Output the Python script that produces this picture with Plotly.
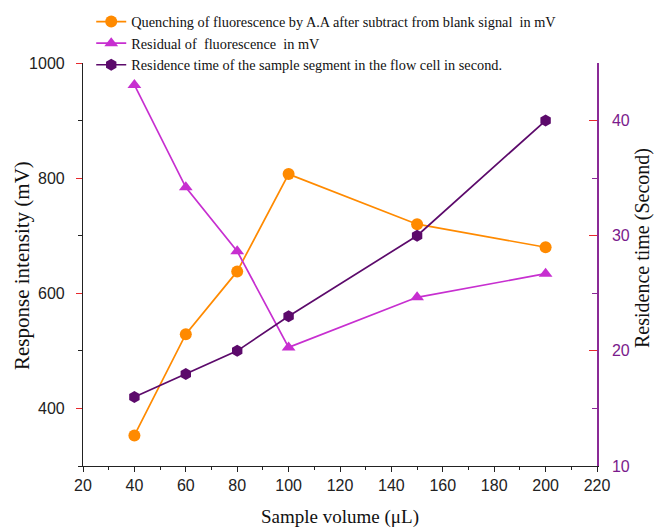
import plotly.graph_objects as go

volume = [40, 60, 80, 100, 150, 200]
quenching = [353, 529, 638, 807, 720, 680]
residual = [962, 784, 673, 506, 593, 634]
residence = [16, 18, 20, 23, 30, 40]

names = [
    "Quenching of fluorescence by A.A after subtract from blank signal  in mV",
    "Residual of  fluorescence  in mV",
    "Residence time of the sample segment in the flow cell in second.",
]

ORANGE = "#FF8A00"
MAGENTA = "#C72FD0"
PURPLE = "#5C0A6B"
AXPURPLE = "#8A2A96"

fig = go.Figure()
fig.add_trace(go.Scatter(x=volume, y=quenching, name=names[0], mode="lines+markers",
                         line=dict(color=ORANGE, width=1.7),
                         marker=dict(symbol="circle", size=12, color=ORANGE)))
fig.add_trace(go.Scatter(x=volume, y=residual, name=names[1], mode="lines+markers",
                         line=dict(color=MAGENTA, width=1.7),
                         marker=dict(symbol="triangle-up", size=12, color=MAGENTA)))
fig.add_trace(go.Scatter(x=volume, y=residence, name=names[2], mode="lines+markers",
                         yaxis="y2",
                         line=dict(color=PURPLE, width=1.7),
                         marker=dict(symbol="hexagon", size=12, color=PURPLE)))

tickfont = dict(family="Liberation Sans, Arial", size=16, color="#222")
serif = "Liberation Serif, Times New Roman"

fig.update_layout(
    width=654, height=529,
    margin=dict(l=83, r=57, t=63, b=63, autoexpand=False),
    paper_bgcolor="white", plot_bgcolor="white",
    showlegend=True,
    legend=dict(x=0.016, y=1.142, xanchor="left", yanchor="top",
                bgcolor="rgba(0,0,0,0)",
                font=dict(family=serif, size=14.3, color="#111"),
                tracegroupgap=0, itemwidth=30),
    xaxis=dict(range=[20, 220], dtick=20, tick0=20, showgrid=False, zeroline=False,
               showline=True, linecolor="#222", linewidth=1.2,
               ticks="outside", ticklen=5, tickcolor="#222",
               minor=dict(dtick=10, ticks="outside", ticklen=3, tickcolor="#222", showgrid=False),
               tickfont=tickfont, automargin=False,
               title=dict(text="Sample volume (μL)", font=dict(family=serif, size=19, color="#111"), standoff=16)),
    yaxis=dict(range=[300, 1000], dtick=200, tick0=400, showgrid=False, zeroline=False,
               showline=True, linecolor="#222", linewidth=1.2,
               ticks="outside", ticklen=6, tickcolor="#E8282C", ticklabelstandoff=8,
               minor=dict(dtick=100, ticks="outside", ticklen=4, tickcolor="#222", showgrid=False),
               tickfont=tickfont, automargin=False),
    yaxis2=dict(range=[10, 45], dtick=10, tick0=10, overlaying="y", side="right",
                showgrid=False, zeroline=False,
                showline=True, linecolor=AXPURPLE, linewidth=1.5,
                ticks="inside", ticklen=8, tickcolor="#E8282C", ticklabelstandoff=10,
                minor=dict(dtick=5, ticks="inside", ticklen=5, tickcolor=AXPURPLE, showgrid=False),
                tickfont=dict(family="Liberation Sans, Arial", size=16, color="#7A1A8C"),
                automargin=False),
    annotations=[
        dict(text="Response intensity (mV)", xref="paper", yref="paper",
             x=(22 - 83) / 514, y=(466 - 266) / 403, textangle=-90, showarrow=False,
             xanchor="center", yanchor="middle",
             font=dict(family=serif, size=21, color="#111")),
        dict(text="Residence time (Second)", xref="paper", yref="paper",
             x=(642 - 83) / 514, y=(466 - 248) / 403, textangle=-90, showarrow=False,
             xanchor="center", yanchor="middle",
             font=dict(family=serif, size=20, color="#111")),
    ],
)

fig.write_html("out.html", config={"displayModeBar": False},
               post_script="document.body.style.margin='0';")
